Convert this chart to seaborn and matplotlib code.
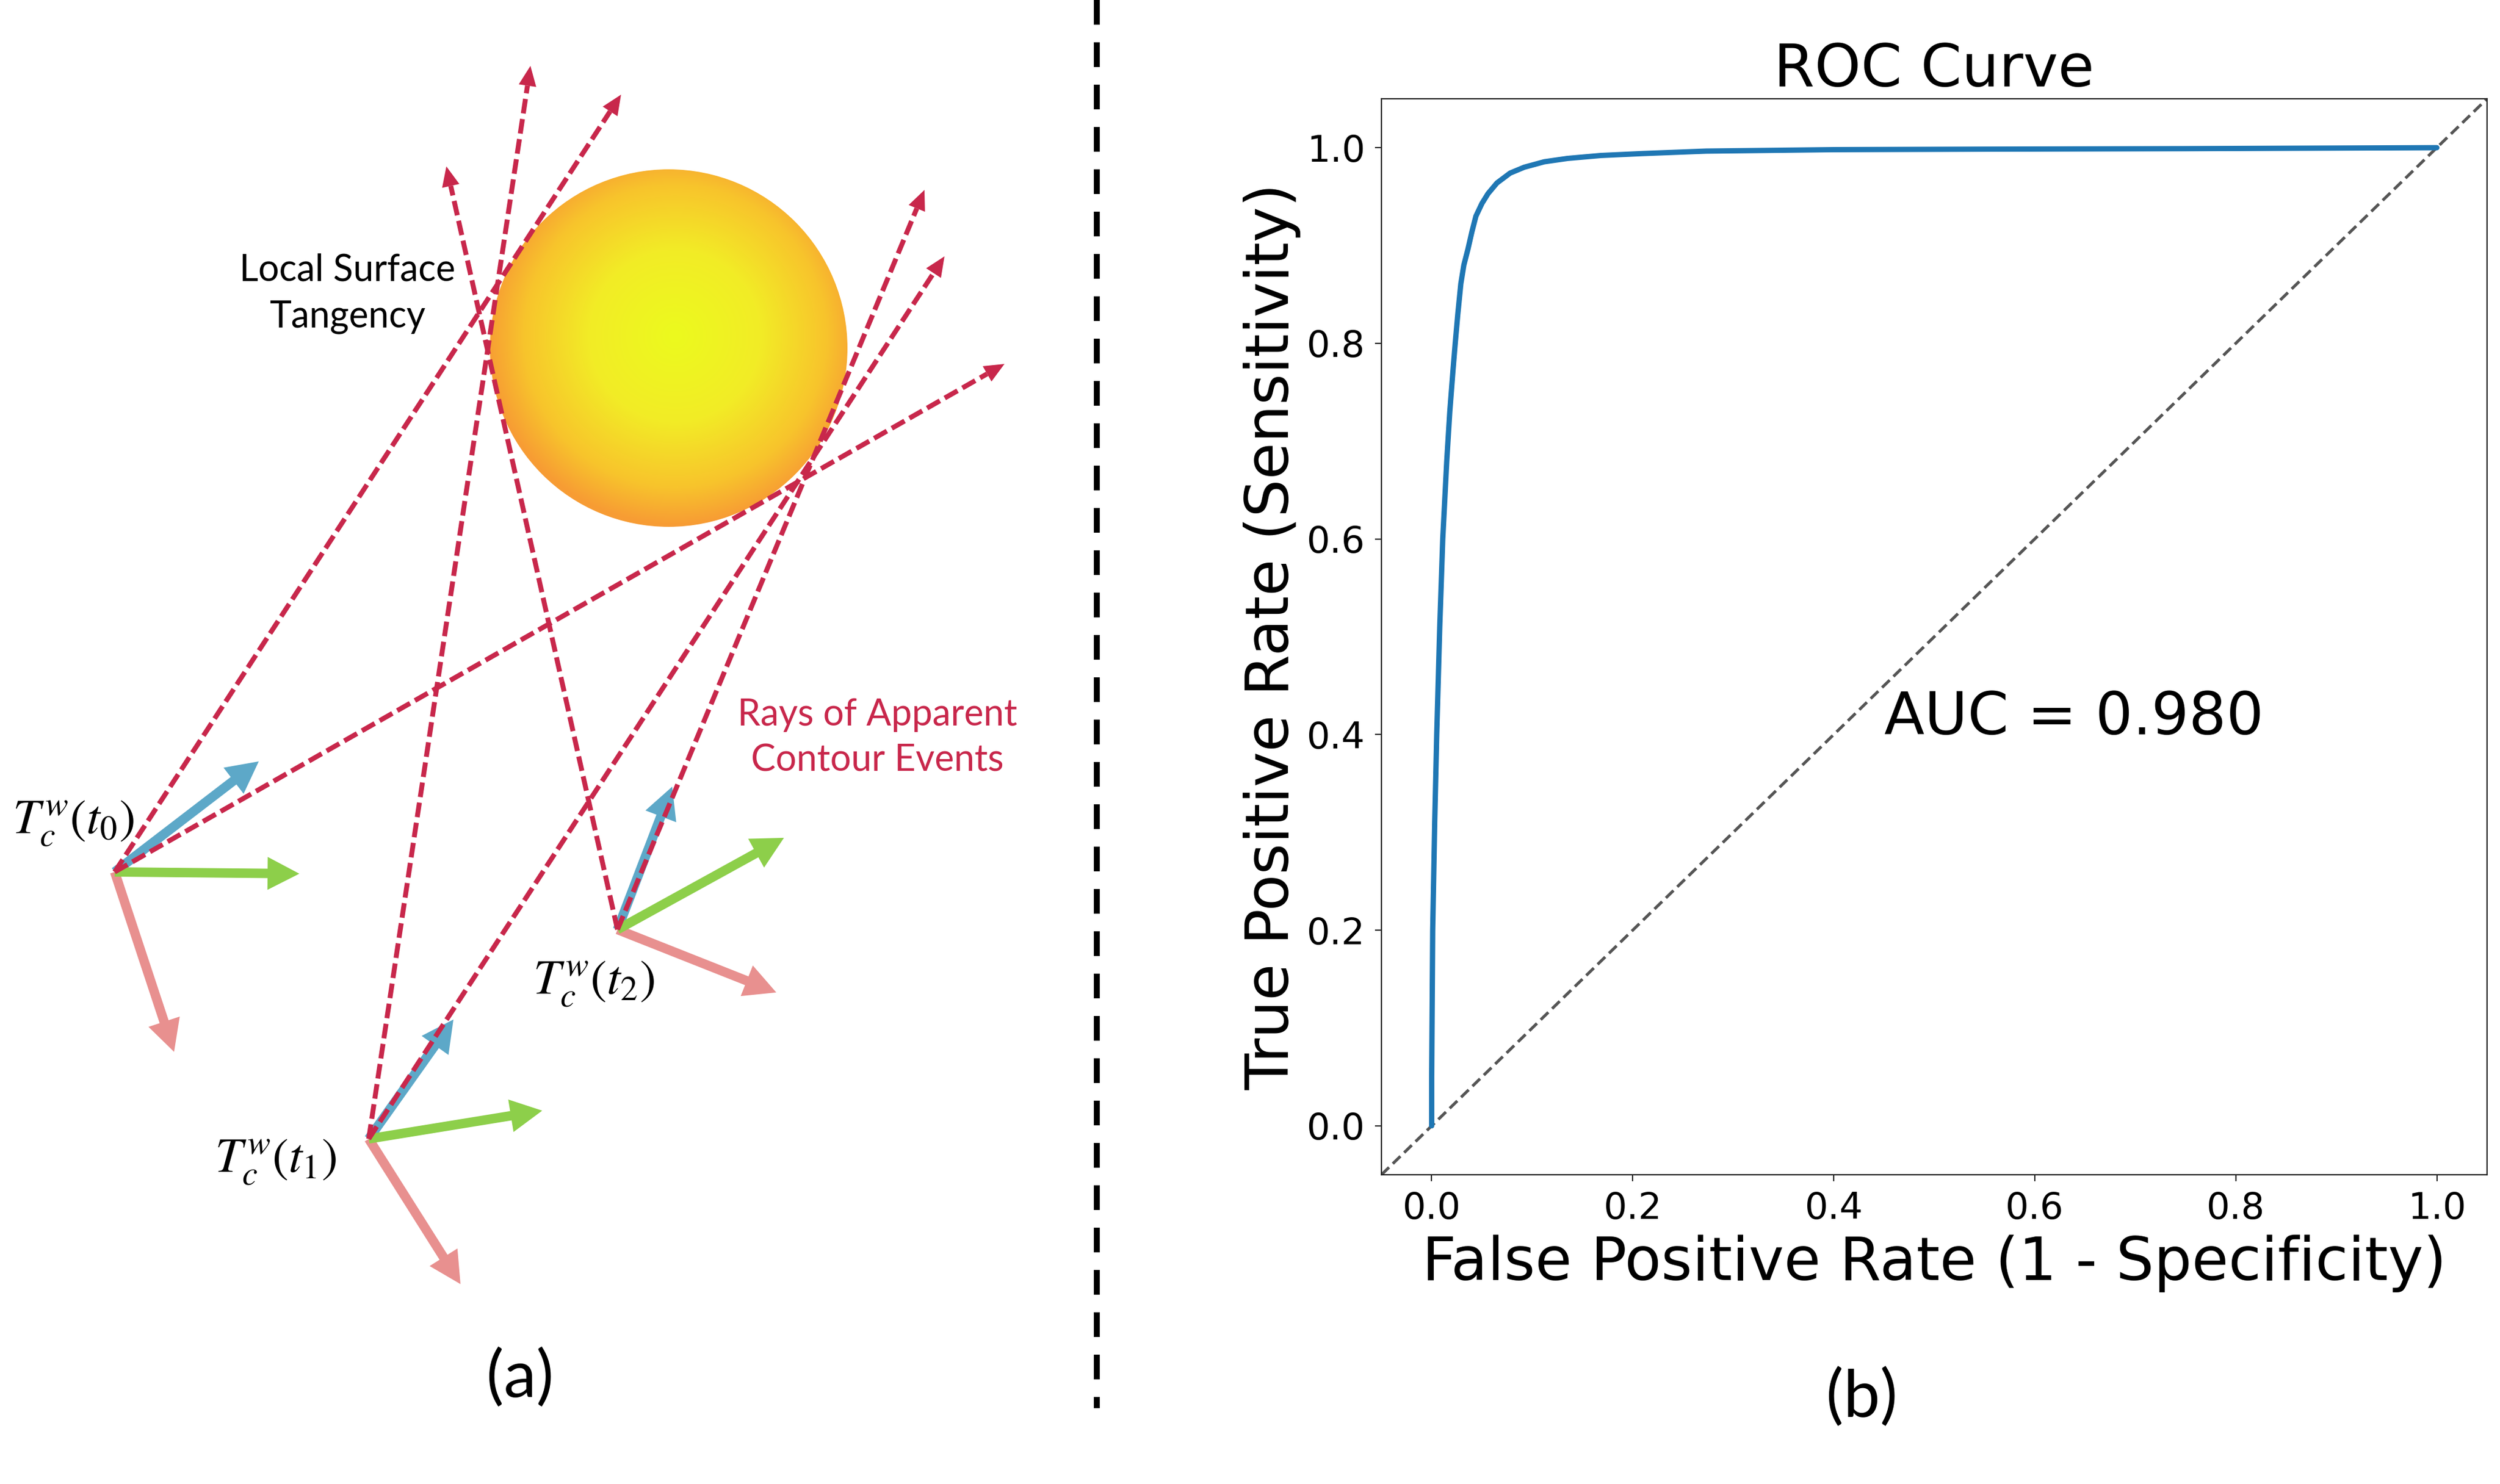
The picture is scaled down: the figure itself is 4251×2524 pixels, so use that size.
import numpy as np
import matplotlib
matplotlib.use("Agg")
import matplotlib.pyplot as plt
import seaborn as sns
import pandas as pd
from matplotlib.colors import LinearSegmentedColormap
from matplotlib.patches import Circle

# ---------------- ROC data ----------------
fpr = [0.0, 0.0, 0.001, 0.003, 0.005, 0.008, 0.011, 0.015, 0.018, 0.021,
       0.0234, 0.026, 0.029, 0.032, 0.036, 0.040, 0.044, 0.050, 0.056,
       0.065, 0.078, 0.092, 0.112, 0.135, 0.168, 0.21, 0.273, 0.40, 0.55,
       0.75, 1.0]
tpr = [0.0, 0.05, 0.20, 0.31, 0.40, 0.51, 0.60, 0.68, 0.73, 0.77,
       0.80, 0.83, 0.861, 0.88, 0.896, 0.914, 0.930, 0.943, 0.953,
       0.964, 0.974, 0.980, 0.9856, 0.989, 0.992, 0.994, 0.9965, 0.998, 0.9985,
       0.999, 1.0]
auc_value = 0.980
tick_values = [0.0, 0.2, 0.4, 0.6, 0.8, 1.0]
tick_labels = ["0.0", "0.2", "0.4", "0.6", "0.8", "1.0"]

# ---------------- Diagram (a), figure-pixel units ----------------
camera_labels = [r"$T_c^w(t_0)$", r"$T_c^w(t_1)$", r"$T_c^w(t_2)$"]
camera_x = [195, 627, 1050]
camera_y = [1483, 1937, 1581]
blue_tip_x = [440, 771, 1143]
blue_tip_y = [1295, 1734, 1338]
green_tip_x = [509, 922, 1333]
green_tip_y = [1486, 1889, 1425]
pink_tip_x = [296, 783, 1320]
pink_tip_y = [1789, 2184, 1688]
label_x = [125, 469, 1010]
label_y = [1417, 1993, 1690]

ray_camera = [0, 0, 1, 1, 2, 2]
ray_tip_x = [1056, 1708, 902, 1606, 759, 1572]
ray_tip_y = [161, 619, 112, 436, 283, 323]

sphere_cx, sphere_cy, sphere_r = 1137, 592, 304
highlight_x, highlight_y = 1148, 571

W, H = 4251, 2524

sns.set_theme(style="ticks")
plt.rcParams["font.family"] = ["DejaVu Sans"]
plt.rcParams["mathtext.fontset"] = "stix"
plt.rcParams["text.color"] = "black"
plt.rcParams["axes.labelcolor"] = "black"

fig = plt.figure(figsize=(W / 100, H / 100), dpi=100)
fig.patch.set_facecolor("white")

ax0 = fig.add_axes([0, 0, 1, 1])
ax0.set_facecolor("none")
ax0.axis("off")

# sphere with radial gradient
n = 500
xs = np.linspace(sphere_cx - sphere_r, sphere_cx + sphere_r, n)
ys = np.linspace(sphere_cy - sphere_r, sphere_cy + sphere_r, n)
X, Y = np.meshgrid(xs, ys)
d = np.hypot(X - highlight_x, Y - highlight_y) / (sphere_r * 1.06)
sun = LinearSegmentedColormap.from_list(
    "sun", [(0.0, "#ecfa1e"), (0.45, "#f2ec26"), (0.8, "#f8c42c"), (1.0, "#f79c34")])
im = ax0.imshow(d, cmap=sun, vmin=0, vmax=1, origin="upper",
                extent=(sphere_cx - sphere_r, sphere_cx + sphere_r,
                        sphere_cy + sphere_r, sphere_cy - sphere_r),
                interpolation="bilinear", aspect="auto", zorder=1)
circ = Circle((sphere_cx, sphere_cy), sphere_r, facecolor="none",
              edgecolor="none", transform=ax0.transData)
ax0.add_patch(circ)
im.set_clip_path(circ)

blue_c, green_c, pink_c = "#5da8c8", "#8dcf4a", "#e8908f"
ray_c = "#c8274b"

# camera frames
for i in range(3):
    ox, oy = camera_x[i], camera_y[i]
    for tx, ty, col in ((pink_tip_x[i], pink_tip_y[i], pink_c),
                        (blue_tip_x[i], blue_tip_y[i], blue_c),
                        (green_tip_x[i], green_tip_y[i], green_c)):
        ax0.arrow(ox, oy, tx - ox, ty - oy, width=16, head_width=56,
                  head_length=54, length_includes_head=True,
                  fc=col, ec="none", zorder=3)
    ax0.text(label_x[i], label_y[i], camera_labels[i], fontsize=60,
             ha="center", va="baseline", color="black", zorder=5)

# rays of apparent contour events
hl, hw = 34, 30
for k in range(len(ray_tip_x)):
    ox, oy = camera_x[ray_camera[k]], camera_y[ray_camera[k]]
    tx, ty = ray_tip_x[k], ray_tip_y[k]
    v = np.array([tx - ox, ty - oy], float)
    u = v / np.hypot(*v)
    ex, ey = tx - u[0] * hl, ty - u[1] * hl
    ax0.plot([ox, ex], [oy, ey], color=ray_c, lw=6.0, dashes=(3.0, 1.15),
             solid_capstyle="butt", dash_capstyle="butt", zorder=4)
    ax0.arrow(ex, ey, tx - ex, ty - ey, width=0, head_width=hw,
              head_length=hl, length_includes_head=True, fc=ray_c,
              ec="none", zorder=4)

calib = ["Lato", "DejaVu Sans"]
ax0.text(591, 478, "Local Surface", fontsize=45, family=calib, ha="center",
         va="baseline", color="black", zorder=5)
ax0.text(591, 557, "Tangency", fontsize=45, family=calib, ha="center",
         va="baseline", color="black", zorder=5)
ax0.text(1492, 1234, "Rays of Apparent", fontsize=45, family=calib,
         ha="center", va="baseline", color=ray_c, zorder=5)
ax0.text(1492, 1312, "Contour Events", fontsize=45, family=calib,
         ha="center", va="baseline", color=ray_c, zorder=5)
ax0.text(884, 2345, "(a)", fontsize=80, family=calib, ha="center",
         va="center", color="black", zorder=5)
ax0.text(3166, 2378, "(b)", fontsize=80, family=calib, ha="center",
         va="center", color="black", zorder=5)

# separator
ax0.plot([1865, 1865], [0, 2395], color="black", lw=7.2, dashes=(4.2, 3.0),
         dash_capstyle="butt", zorder=2)

ax0.set_xlim(0, W)
ax0.set_ylim(H, 0)

# ---------------- ROC panel (b) ----------------
ax = fig.add_axes([2349 / W, 1 - 1998 / H, (4229 - 2349) / W, (1998 - 168) / H])
df = pd.DataFrame({"fpr": fpr, "tpr": tpr})
ax.axline((0, 0), slope=1, color="#555555", lw=3.6, dashes=(3.6, 1.8), zorder=1)
sns.lineplot(data=df, x="fpr", y="tpr", ax=ax, color="#1f77b4", lw=6.5,
             sort=False, estimator=None, zorder=2)
ax.set_xlim(-0.05, 1.05)
ax.set_ylim(-0.05, 1.05)
ax.set_xticks(tick_values)
ax.set_xticklabels(tick_labels)
ax.set_yticks(tick_values)
ax.set_yticklabels(tick_labels)
ax.tick_params(labelsize=45, length=8, width=1.5, pad=12, color="#222222",
               labelcolor="black")
for s in ax.spines.values():
    s.set_linewidth(1.6)
    s.set_color("#222222")
ax.set_title("ROC Curve", fontsize=72, pad=2, color="black")
ax.set_xlabel("False Positive Rate (1 - Specificity)", fontsize=73,
              labelpad=10, color="black")
ax.set_ylabel("True Positive Rate (Sensitivity)", fontsize=73, labelpad=7,
              color="black")
ax.text(0.45, 0.40, f"AUC = {auc_value:.3f}", fontsize=72, color="black")

fig.savefig("out.png", dpi=100, facecolor="white")
